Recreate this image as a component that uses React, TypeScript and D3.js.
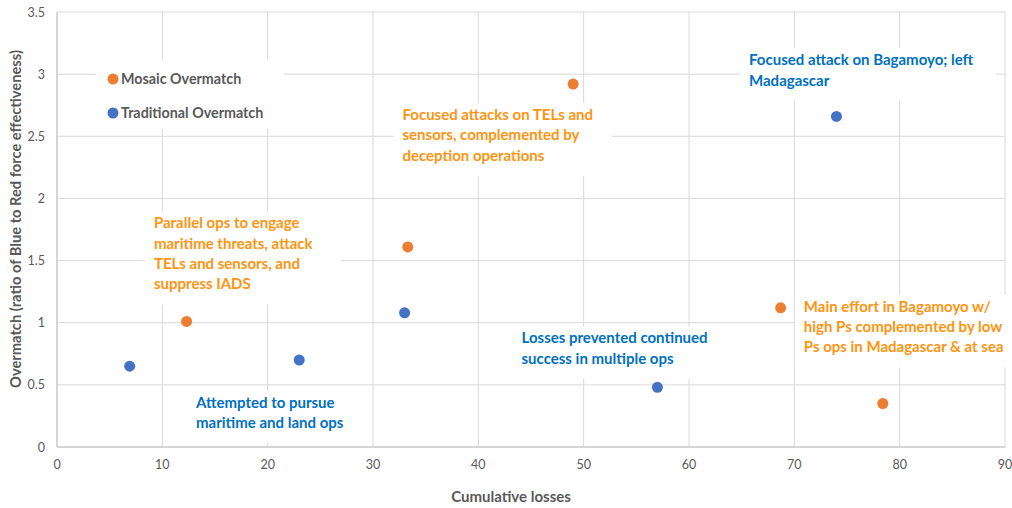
import React from "react";
import * as d3 from "d3";

const mosaicX = [12.3, 33.3, 49.0, 68.7, 78.4];
const mosaicY = [1.01, 1.61, 2.92, 1.12, 0.35];
const tradX = [6.9, 23.0, 33.0, 57.0, 74.0];
const tradY = [0.65, 0.7, 1.08, 0.48, 2.66];
const xTicks = [0, 10, 20, 30, 40, 50, 60, 70, 80, 90];
const yTicks = [0, 0.5, 1, 1.5, 2, 2.5, 3, 3.5];
const legendLabels = ["Mosaic Overmatch", "Traditional Overmatch"];

type Note = { x: number; y: number; lines: string[]; kind: "m" | "t" };
const notes: Note[] = [
  { x: 9.2, y: 1.76, kind: "m", lines: ["Parallel ops to engage", "maritime threats, attack", "TELs and sensors, and", "suppress IADS"] },
  { x: 32.8, y: 2.63, kind: "m", lines: ["Focused attacks on TELs and", "sensors, complemented by", "deception operations"] },
  { x: 65.7, y: 3.07, kind: "t", lines: ["Focused attack on Bagamoyo; left", "Madagascar"] },
  { x: 70.9, y: 1.09, kind: "m", lines: ["Main effort in Bagamoyo w/", "high Ps complemented by low", "Ps ops in Madagascar & at sea"] },
  { x: 44.1, y: 0.834, kind: "t", lines: ["Losses prevented continued", "success in multiple ops"] },
  { x: 13.2, y: 0.314, kind: "t", lines: ["Attempted to pursue", "maritime and land ops"] },
];

const W = 1012, H = 508;
const left = 57, right = 1005, top = 12, bottom = 447;
const FONT = "Lato, 'Open Sans', sans-serif";
const ORANGE = "#ED7D31", BLUE = "#4472C4";
const ORANGE_T = "#FF9410", BLUE_T = "#0070C0";

export default function App() {
  const x = d3.scaleLinear().domain([0, 90]).range([left, right]);
  const y = d3.scaleLinear().domain([0, 3.5]).range([bottom, top]);
  const lh = 20.3;
  const fs = 15;
  const charW = 7.5;
  return (
    <svg width={W} height={H} style={{ position: "absolute", left: 0, top: 0, background: "#fff" }} fontFamily={FONT}>
      <rect width={W} height={H} fill="#fff" />
      {yTicks.map((t) => (
        <line key={"gy" + t} x1={left} x2={right} y1={y(t)} y2={y(t)} stroke="#d9d9d9" strokeWidth={1} />
      ))}
      {xTicks.map((t) => (
        <line key={"gx" + t} x1={x(t)} x2={x(t)} y1={top} y2={bottom} stroke="#d9d9d9" strokeWidth={1} />
      ))}
      <line x1={left} x2={right} y1={bottom} y2={bottom} stroke="#bfbfbf" />
      <line x1={left} x2={left} y1={top} y2={bottom} stroke="#bfbfbf" />
      {yTicks.map((t) => (
        <text key={"ty" + t} x={45} y={y(t) + 4.5} textAnchor="end" fontSize={12.5} fill="#595959">{String(t)}</text>
      ))}
      {xTicks.map((t) => (
        <text key={"tx" + t} x={x(t)} y={469} textAnchor="middle" fontSize={12.5} fill="#595959">{String(t)}</text>
      ))}
      <text x={511} y={502} textAnchor="middle" fontSize={15} fontWeight="bold" fill="#595959">Cumulative losses</text>
      <text transform={`translate(21,219) rotate(-90)`} textAnchor="middle" fontSize={14.7} fontWeight="bold" fill="#595959">
        Overmatch (ratio of Blue to Red force effectiveness)
      </text>
      <rect x={96} y={59} width={188} height={70} fill="#fff" />
      {legendLabels.map((l, i) => (
        <g key={l}>
          <circle cx={113} cy={79 + i * 34} r={5.5} fill={i === 0 ? ORANGE : BLUE} />
          <text x={121} y={84 + i * 34} fontSize={14.3} fontWeight="bold" fill="#595959">{l}</text>
        </g>
      ))}
      {notes.map((n, i) => {
        const maxLen = d3.max(n.lines, (l) => l.length) || 0;
        const px = x(n.x), py = y(n.y);
        return (
          <g key={"n" + i}>
            <rect x={px - 9} y={py - 17} width={maxLen * charW + 16} height={n.lines.length * lh + 12} fill="#fff" />
            {n.lines.map((l, j) => (
              <text key={j} x={px} y={py + j * lh} fontSize={fs} fontWeight="bold" fill={n.kind === "m" ? ORANGE_T : BLUE_T}>{l}</text>
            ))}
          </g>
        );
      })}
      {tradX.map((v, i) => (
        <circle key={"t" + i} cx={x(v)} cy={y(tradY[i])} r={5.5} fill={BLUE} />
      ))}
      {mosaicX.map((v, i) => (
        <circle key={"m" + i} cx={x(v)} cy={y(mosaicY[i])} r={5.5} fill={ORANGE} />
      ))}
    </svg>
  );
}
